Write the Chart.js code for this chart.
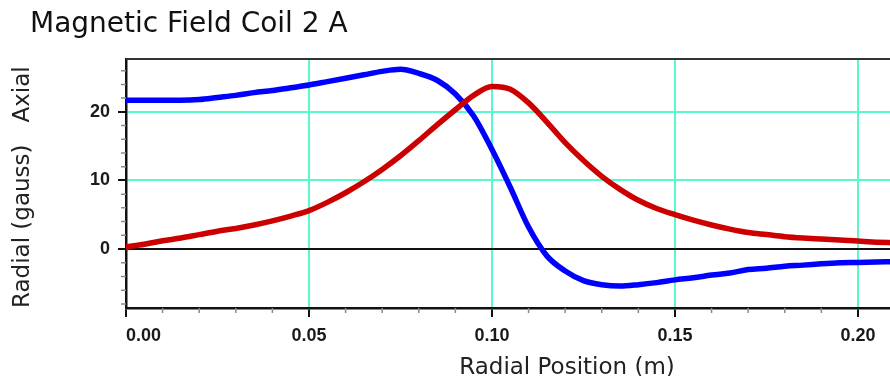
<!DOCTYPE html>
<html lang="en">
<head>
    <meta charset="UTF-8">
    <title>Magnetic Field Coil 2 A</title>
    <script src="https://cdn.jsdelivr.net/npm/chart.js"></script>
    <style>
        html, body { margin: 0; padding: 0; background: #fff; overflow: hidden; }
        .chart-wrap { width: 1008px; height: 376px; }
    </style>
</head>
<body>
    <div class="chart-wrap">
        <canvas id="fieldChart" width="1008" height="376"></canvas>
    </div>

    <script>
        // Radial position of the probe (m)
        const positionM = [0, 0.005, 0.01, 0.015, 0.02, 0.025, 0.03, 0.035, 0.04, 0.045,
            0.05, 0.055, 0.06, 0.065, 0.07, 0.075, 0.08, 0.085, 0.09, 0.095,
            0.10, 0.105, 0.11, 0.115, 0.12, 0.125, 0.13, 0.135, 0.14, 0.145,
            0.15, 0.155, 0.16, 0.165, 0.17, 0.175, 0.18, 0.185, 0.19, 0.195,
            0.20, 0.205, 0.21];

        // Axial field (gauss) - blue trace
        const axialGauss = [21.7, 21.7, 21.7, 21.7, 21.8, 22.1, 22.4, 22.8, 23.1, 23.5,
            23.9, 24.4, 24.9, 25.4, 25.9, 26.2, 25.6, 24.6, 22.6, 19.4,
            14.5, 9.0, 3.2, -1.0, -3.2, -4.6, -5.2, -5.4, -5.2, -4.9,
            -4.5, -4.2, -3.8, -3.5, -3.0, -2.8, -2.5, -2.35, -2.15, -2.0,
            -1.95, -1.9, -1.85];

        // Radial field (gauss) - red trace
        const radialGauss = [0.3, 0.7, 1.2, 1.6, 2.1, 2.6, 3.0, 3.5, 4.1, 4.8,
            5.6, 6.8, 8.2, 9.8, 11.6, 13.6, 15.8, 18.1, 20.3, 22.4,
            23.7, 23.3, 21.3, 18.5, 15.5, 12.9, 10.6, 8.7, 7.1, 5.9,
            5.0, 4.2, 3.5, 2.9, 2.4, 2.1, 1.8, 1.6, 1.45, 1.3,
            1.15, 1.0, 0.9];

        const xTickValues = [0, 0.05, 0.10, 0.15, 0.20];
        const xMinorTicks = [0.01, 0.02, 0.03, 0.04, 0.06, 0.07, 0.08, 0.09, 0.11, 0.12,
            0.13, 0.14, 0.16, 0.17, 0.18, 0.19, 0.21, 0.22, 0.23, 0.24];
        const yTickValues = [0, 10, 20];
        const yMinorTicks = [-8, -6, -4, -2, 2, 4, 6, 8, 12, 14, 16, 18, 22, 24, 26];

        const titleText = 'Magnetic Field Coil 2 A';
        const xTitle = 'Radial Position (m)';
        const yTitle = 'Radial (gauss)   Axial ';

        const gridCyan = 'rgb(90, 248, 205)';

        // title, frame and minor ticks
        const decorations = {
            id: 'decorations',
            beforeDraw(chart) {
                // first x label sits to the right of its tick
                const items = chart.scales.x.getLabelItems();
                if (items.length) items[0].options.textAlign = 'left';
            },
            afterDraw(chart) {
                const ctx = chart.ctx;
                const area = chart.chartArea;
                const xs = chart.scales.x;
                const ys = chart.scales.y;

                ctx.save();
                ctx.font = '28px "DejaVu Sans"';
                ctx.fillStyle = '#111';
                ctx.textBaseline = 'alphabetic';
                ctx.fillText(titleText, 30, 32);

                // top frame
                ctx.strokeStyle = '#333';
                ctx.lineWidth = 2;
                ctx.beginPath();
                ctx.moveTo(area.left, area.top);
                ctx.lineTo(area.right, area.top);
                ctx.stroke();

                // minor ticks
                ctx.strokeStyle = '#8a8a8a';
                ctx.lineWidth = 1.5;
                ctx.beginPath();
                xMinorTicks.forEach(v => {
                    const px = xs.getPixelForValue(v);
                    ctx.moveTo(px, area.bottom);
                    ctx.lineTo(px, area.bottom + 5);
                });
                yMinorTicks.forEach(v => {
                    const py = ys.getPixelForValue(v);
                    ctx.moveTo(area.left - 5, py);
                    ctx.lineTo(area.left, py);
                });
                ctx.stroke();
                ctx.restore();
            }
        };

        const config = {
            type: 'line',
            data: {
                datasets: [{
                    label: 'Radial',
                    data: positionM.map((x, i) => ({ x: x, y: radialGauss[i] })),
                    borderColor: '#cc0000',
                    borderWidth: 5.5,
                    pointRadius: 0,
                    cubicInterpolationMode: 'monotone',
                    borderCapStyle: 'round',
                    borderJoinStyle: 'round',
                    fill: false
                }, {
                    label: 'Axial',
                    data: positionM.map((x, i) => ({ x: x, y: axialGauss[i] })),
                    borderColor: '#0000ff',
                    borderWidth: 5.5,
                    pointRadius: 0,
                    cubicInterpolationMode: 'monotone',
                    borderCapStyle: 'round',
                    borderJoinStyle: 'round',
                    fill: false
                }]
            },
            options: {
                responsive: false,
                animation: false,
                devicePixelRatio: 1,
                layout: { padding: { top: 59, right: 0, bottom: 0, left: 0 } },
                plugins: {
                    legend: { display: false },
                    tooltip: { enabled: false }
                },
                scales: {
                    x: {
                        type: 'linear',
                        min: 0,
                        max: 0.241,
                        afterBuildTicks: (scale) => { scale.ticks = xTickValues.map(v => ({ value: v })); },
                        afterFit: (scale) => { scale.height = 68; },
                        grid: {
                            color: (c) => (c.tick && c.tick.value > 0 ? gridCyan : 'rgba(0,0,0,0)'),
                            lineWidth: 2,
                            tickLength: 9,
                            tickColor: '#111',
                            tickWidth: 2
                        },
                        border: { display: true, color: '#111', width: 2.5 },
                        ticks: {
                            autoSkip: false,
                            maxRotation: 0,
                            padding: 8,
                            color: '#1a1a1a',
                            font: { family: '"Liberation Sans", Arial', size: 18, weight: 'bold' },
                            callback: (v) => Number(v).toFixed(2)
                        },
                        title: {
                            display: true,
                            text: xTitle,
                            color: '#222',
                            font: { family: '"DejaVu Sans"', size: 23 },
                            padding: { top: 0, bottom: -6 }
                        }
                    },
                    y: {
                        min: -8.6,
                        max: 27.7,
                        afterBuildTicks: (scale) => { scale.ticks = yTickValues.map(v => ({ value: v })); },
                        afterFit: (scale) => { scale.width = 126; },
                        grid: {
                            color: (c) => (c.tick && c.tick.value === 0 ? '#111' : gridCyan),
                            lineWidth: 2,
                            tickLength: 8,
                            tickColor: '#111',
                            tickWidth: 2
                        },
                        border: { display: true, color: '#111', width: 2.5 },
                        ticks: {
                            padding: 8,
                            color: '#1a1a1a',
                            font: { family: '"Liberation Sans", Arial', size: 18, weight: 'bold' }
                        },
                        title: {
                            display: true,
                            text: yTitle,
                            color: '#222',
                            font: { family: '"DejaVu Sans"', size: 23 },
                            padding: { top: 9, bottom: 0 }
                        }
                    }
                }
            },
            plugins: [decorations]
        };

        window.onload = function() {
            const ctx = document.getElementById('fieldChart').getContext('2d');
            new Chart(ctx, config);
        };
    </script>
</body>
</html>
